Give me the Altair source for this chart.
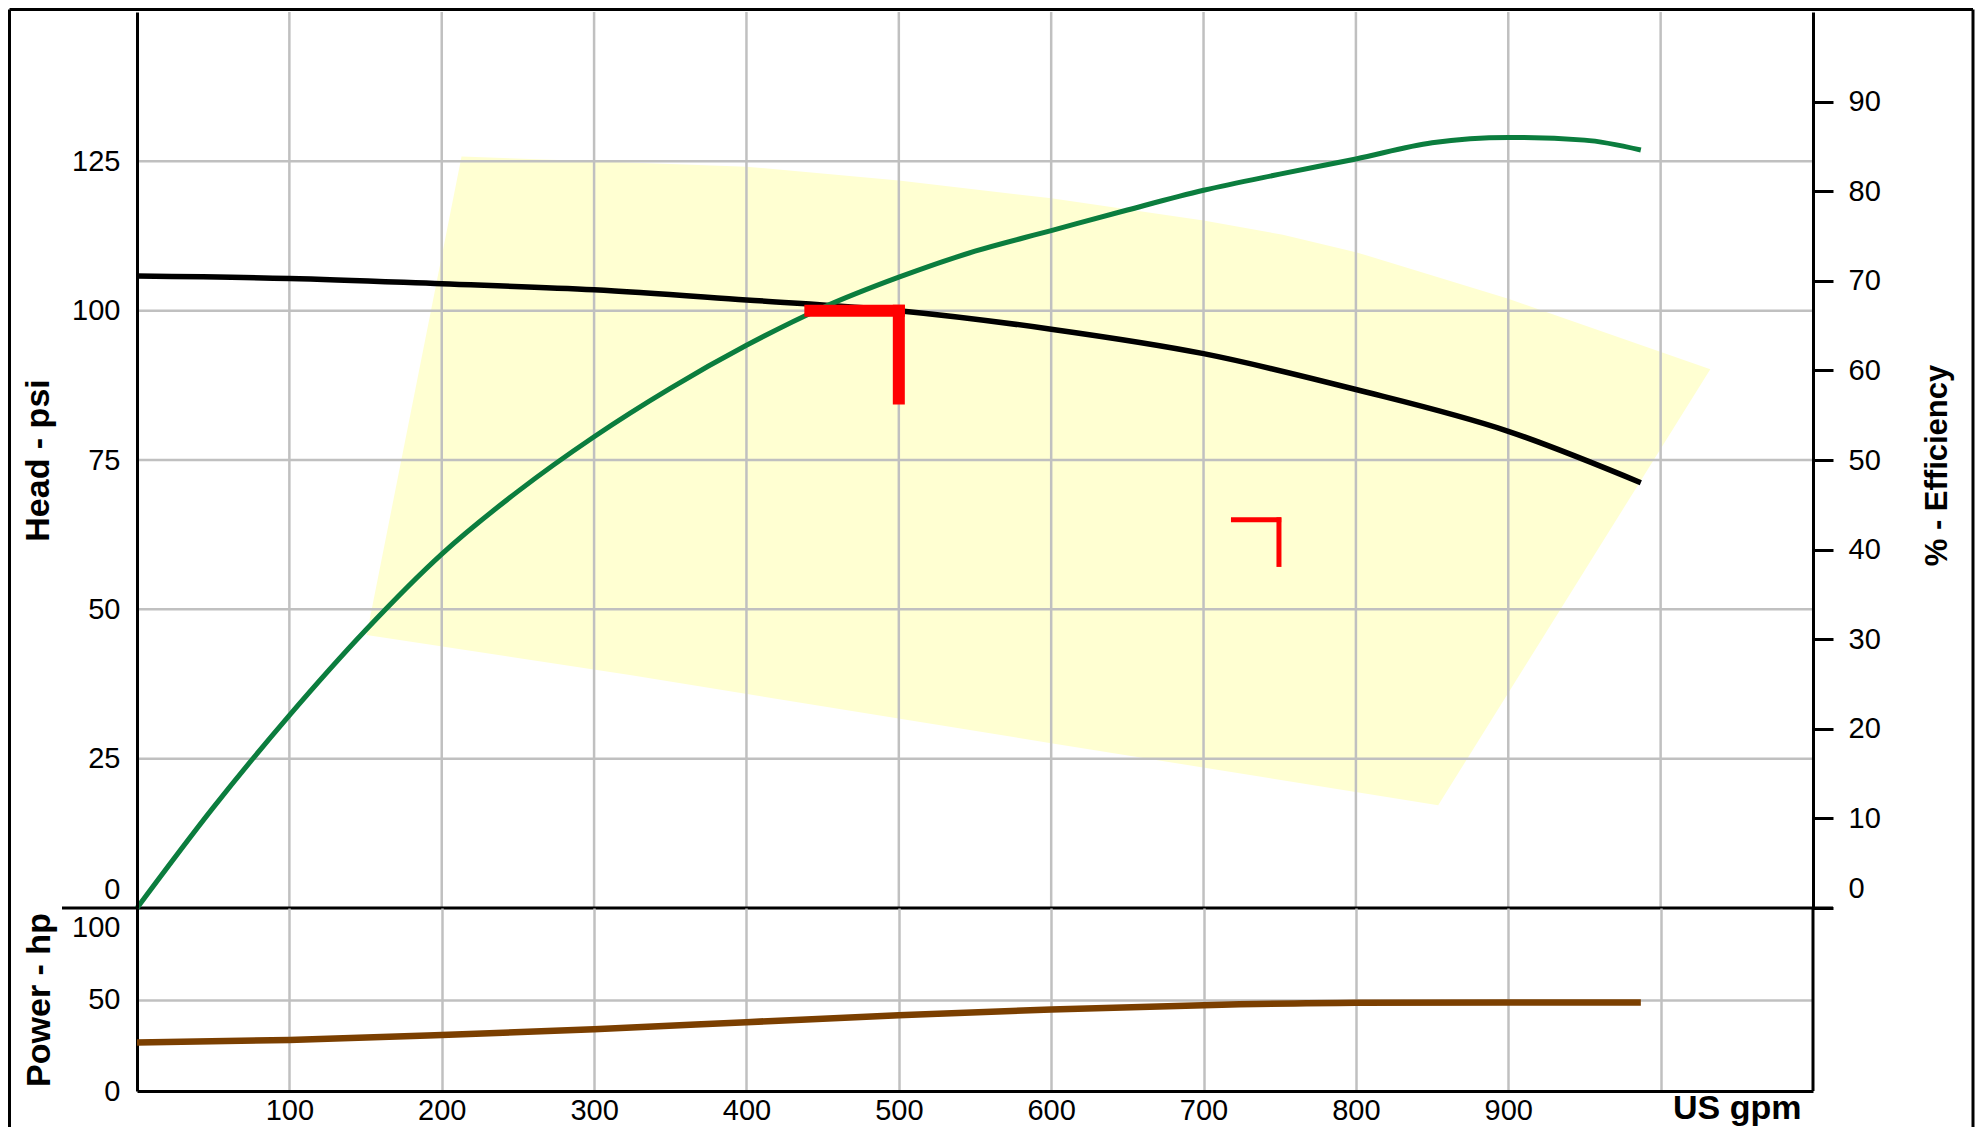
import altair as alt
import pandas as pd

# ---------------- data ----------------
flow = [0, 100, 200, 300, 400, 500, 600, 700, 800, 900, 987]
head_psi = [105.8, 105.4, 104.5, 103.5, 101.8, 100.0, 96.9, 92.8, 86.8, 79.8, 71.2]
power_hp = [26.5, 27.9, 30.6, 33.8, 37.6, 41.4, 44.6, 46.9, 48.2, 48.4, 48.4]

eff_flow = [0, 50, 100, 150, 200, 250, 300, 350, 400, 450, 500, 550, 600, 650,
            700, 750, 800, 850, 900, 950, 987]
efficiency = [0, 11.2, 21.5, 31.0, 39.5, 46.5, 52.6, 58.0, 62.8, 67.0, 70.4, 73.3,
              75.6, 77.9, 80.1, 81.9, 83.6, 85.4, 86.0, 85.7, 84.6]

# operating window (yellow polygon), vertices in order
poly_flow = [150.7, 213, 300, 400, 500, 600, 700, 752, 800, 900, 1032.6, 854, 600, 323.5]
poly_head = [45.7, 125.8, 125.0, 124.1, 121.8, 118.8, 115.1, 112.7, 109.8, 102.0, 90.2, 17.2, 27.6, 39.0]

# red duty-point markers: horizontal arm and vertical arm
big_h = {"x1": 438, "x2": 504, "y": 100.0}
big_v = {"x": 500, "y1": 101.0, "y2": 84.3}
small_h = {"x1": 718, "x2": 751, "y": 65.0}
small_v = {"x": 749.5, "y1": 65.4, "y2": 57.1}

grid_flow = [100, 200, 300, 400, 500, 600, 700, 800, 900, 1000]
head_ticks = [0, 25, 50, 75, 100, 125]
grid_head = [25, 50, 75, 100, 125]
eff_ticks = [0, 10, 20, 30, 40, 50, 60, 70, 80, 90]
power_ticks = [0, 50, 100]

# ---------------- styling ----------------
W, H1, H2 = 1676, 896, 183
FONT = "Liberation Sans"
GRID = "#c0c0c0"
GRID_W = 2.5
AX_W = 3

x_scale = alt.Scale(domain=[0, 1100], nice=False, zero=False)
head_scale = alt.Scale(domain=[0, 150], nice=False)
eff_scale = alt.Scale(domain=[0, 100], nice=False)
pow_scale = alt.Scale(domain=[0, 100], nice=False)

X_NONE = alt.X("flow:Q", scale=x_scale, axis=None)

curves = pd.DataFrame({"flow": flow, "head": head_psi, "power": power_hp})
eff_df = pd.DataFrame({"flow": eff_flow, "eff": efficiency})
poly_df = pd.DataFrame({"flow": poly_flow, "head": poly_head,
                        "order": list(range(len(poly_flow)))})
one = pd.DataFrame({"a": [0]})

head_axis = alt.Axis(
    values=head_ticks, grid=False, ticks=False, tickSize=0, domain=True,
    domainColor="black", domainWidth=AX_W, labelFontSize=29, labelPadding=17,
    labelColor="black", labelFont=FONT,
    labelOffset={"condition": {"test": "datum.value == 0", "value": -19}, "value": 0},
    title="Head - psi", titleFont=FONT, titleFontSize=34, titleFontWeight="bold",
    titleColor="black", titleAngle=270, titleX=-99, titleY=H1 / 2,
    titleAlign="center", titleBaseline="middle", zindex=1,
)

yellow = alt.Chart(poly_df).mark_line(
    fill="#ffffd2", strokeWidth=0, strokeOpacity=0, interpolate="linear"
).encode(
    x=X_NONE,
    y=alt.Y("head:Q", scale=head_scale, axis=head_axis),
    order="order:Q",
)

vgrid = alt.Chart(pd.DataFrame({"flow": grid_flow})).mark_rule(
    color=GRID, strokeWidth=GRID_W
).encode(x=X_NONE)

hgrid = alt.Chart(pd.DataFrame({"head": grid_head})).mark_rule(
    color=GRID, strokeWidth=GRID_W
).encode(y=alt.Y("head:Q", scale=head_scale, axis=None))

zero_line = alt.Chart(pd.DataFrame({"head": [0]})).mark_rule(
    color="black", strokeWidth=AX_W
).encode(
    y=alt.Y("head:Q", scale=head_scale, axis=None),
    x=alt.value(-75), x2=alt.value(W + 20),
)

head_line = alt.Chart(curves).mark_line(
    color="black", strokeWidth=5.5, interpolate="monotone"
).encode(x=X_NONE, y=alt.Y("head:Q", scale=head_scale, axis=None))

eff_axis = alt.Axis(
    orient="right", values=eff_ticks, grid=False, ticks=True, tickSize=20,
    tickWidth=AX_W, tickColor="black", domain=True, domainColor="black",
    domainWidth=AX_W, labelFontSize=29, labelPadding=15, labelColor="black",
    labelFont=FONT,
    labelOffset={"condition": {"test": "datum.value == 0", "value": -20}, "value": 0},
    title="% - Efficiency", titleFont=FONT, titleFontSize=31, titleFontWeight="bold",
    titleColor="black", titleAngle=270, titleX=124, titleY=453,
    titleAlign="center", titleBaseline="middle", zindex=1,
)

eff_line = alt.Chart(eff_df).mark_line(
    color="#0b7d3e", strokeWidth=5, interpolate="monotone"
).encode(x=X_NONE, y=alt.Y("eff:Q", scale=eff_scale, axis=eff_axis))

def hbar(d, w):
    df = pd.DataFrame({"x1": [d["x1"]], "x2": [d["x2"]], "y": [d["y"]]})
    return alt.Chart(df).mark_rule(color="#ff0000", strokeWidth=w).encode(
        x=alt.X("x1:Q", scale=x_scale, axis=None), x2="x2:Q",
        y=alt.Y("y:Q", scale=head_scale, axis=None))

def vbar(d, w):
    df = pd.DataFrame({"x": [d["x"]], "y1": [d["y1"]], "y2": [d["y2"]]})
    return alt.Chart(df).mark_rule(color="#ff0000", strokeWidth=w).encode(
        x=alt.X("x:Q", scale=x_scale, axis=None),
        y=alt.Y("y1:Q", scale=head_scale, axis=None), y2="y2:Q")

red = alt.layer(hbar(big_h, 12), vbar(big_v, 12), hbar(small_h, 5), vbar(small_v, 5))

BX_L, BX_R, BY_T, BY_B = -127.5, 1836, -2.5, 1115
border = alt.layer(
    alt.Chart(one).mark_rule(color="black", strokeWidth=3).encode(
        x=alt.value(BX_L), x2=alt.value(BX_R), y=alt.value(BY_T)),
    alt.Chart(one).mark_rule(color="black", strokeWidth=3).encode(
        x=alt.value(BX_L), y=alt.value(BY_T), y2=alt.value(BY_B)),
    alt.Chart(one).mark_rule(color="black", strokeWidth=3).encode(
        x=alt.value(BX_R), y=alt.value(BY_T), y2=alt.value(BY_B)),
)

top = alt.layer(
    yellow, vgrid, hgrid, zero_line, head_line, eff_line, red, border
).resolve_scale(y="independent").properties(width=W, height=H1)

# ---------------- power panel ----------------
x_axis = alt.Axis(
    values=grid_flow, grid=True, gridColor=GRID, gridWidth=GRID_W, ticks=False,
    tickSize=0, domain=True, domainColor="black", domainWidth=AX_W,
    labelFontSize=29, labelPadding=5, labelColor="black", labelFont=FONT,
    labelExpr="datum.value == 1000 ? '' : datum.label",
    title="US gpm", titleFont=FONT, titleFontSize=34, titleFontWeight="bold",
    titleColor="black", titleX=1664, titleY=27.5, titleAlign="right",
    titleBaseline="alphabetic",
)

pow_axis = alt.Axis(
    values=power_ticks, grid=True, gridColor=GRID, gridWidth=GRID_W,
    gridOpacity={"condition": {"test": "datum.value == 50", "value": 1}, "value": 0},
    ticks=False, tickSize=0, domain=True, domainColor="black", domainWidth=AX_W,
    labelFontSize=29, labelPadding=17, labelColor="black", labelFont=FONT,
    labelOffset={"condition": {"test": "datum.value == 100", "value": 19}, "value": 0},
    title="Power - hp", titleFont=FONT, titleFontSize=34, titleFontWeight="bold",
    titleColor="black", titleAngle=270, titleX=-98, titleY=H2 / 2,
    titleAlign="center", titleBaseline="middle",
)

power_df = pd.DataFrame({"flow": flow, "power": power_hp})

power_line = alt.Chart(power_df).mark_line(
    color="#7b3f00", strokeWidth=6.5, interpolate="monotone"
).encode(
    x=alt.X("flow:Q", scale=x_scale, axis=x_axis),
    y=alt.Y("power:Q", scale=pow_scale, axis=pow_axis),
)

right_edge = alt.Chart(pd.DataFrame({"flow": [1100]})).mark_rule(
    color="black", strokeWidth=AX_W
).encode(x=alt.X("flow:Q", scale=x_scale, axis=x_axis))

bottom = alt.layer(power_line, right_edge).properties(width=W, height=H2)

chart = alt.vconcat(top, bottom, spacing=0, bounds="flush").resolve_scale(
    x="independent"
).resolve_axis(x="independent").properties(
    padding=0
).configure_view(stroke=None)

chart.save("out.html", embed_options={"renderer": "svg", "actions": False})
